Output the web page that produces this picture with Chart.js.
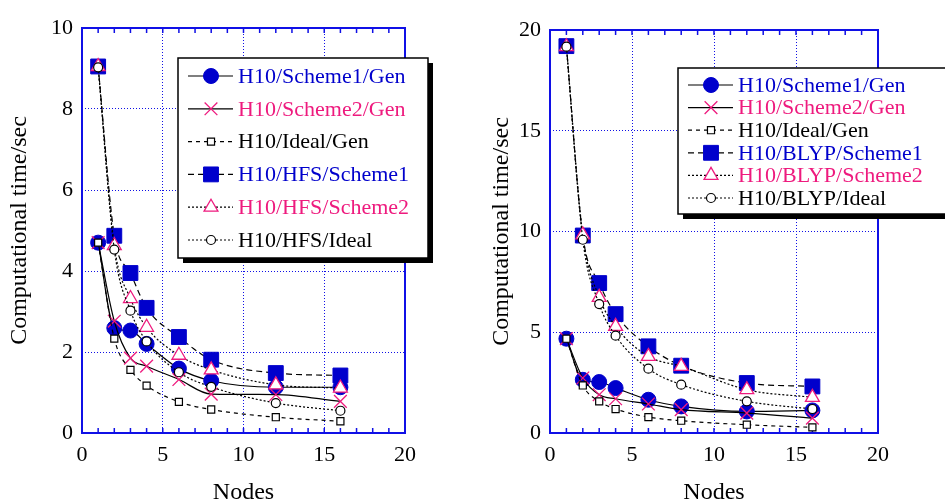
<!DOCTYPE html>
<html>
<head>
<meta charset="utf-8">
<script src="https://cdn.jsdelivr.net/npm/chart.js"></script>
<style>
  html, body { margin: 0; padding: 0; background: #fff; }
  #wrap { position: relative; width: 945px; height: 500px; overflow: hidden; }
  .panel { position: absolute; top: 0; height: 500px; }
</style>
</head>
<body>
<div id="wrap">
  <div class="panel" style="left:0;width:470px"><canvas id="hfsChart"></canvas></div>
  <div class="panel" style="left:470px;width:475px"><canvas id="blypChart"></canvas></div>
</div>
<script>
const nodes = [1, 2, 3, 4, 6, 8, 12, 16];

// left panel (HFS)
const hfsLabels = ['H10/Scheme1/Gen', 'H10/Scheme2/Gen', 'H10/Ideal/Gen', 'H10/HFS/Scheme1', 'H10/HFS/Scheme2', 'H10/HFS/Ideal'];
const leftScheme1Gen = [4.70, 2.59, 2.53, 2.20, 1.59, 1.29, 1.13, 1.13];
const leftScheme2Gen = [4.70, 2.76, 1.85, 1.65, 1.32, 0.96, 0.95, 0.78];
const leftIdealGen   = [4.70, 2.33, 1.56, 1.17, 0.77, 0.58, 0.39, 0.29];
const hfsScheme1     = [9.05, 4.87, 3.95, 3.09, 2.37, 1.81, 1.48, 1.42];
const hfsScheme2     = [9.05, 4.63, 3.32, 2.61, 1.92, 1.56, 1.19, 1.11];
const hfsIdeal       = [9.03, 4.53, 3.02, 2.26, 1.50, 1.14, 0.74, 0.55];

// right panel (BLYP)
const blypLabels = ['H10/Scheme1/Gen', 'H10/Scheme2/Gen', 'H10/Ideal/Gen', 'H10/BLYP/Scheme1', 'H10/BLYP/Scheme2', 'H10/BLYP/Ideal'];
const rightScheme1Gen = [4.68, 2.64, 2.53, 2.23, 1.65, 1.32, 1.07, 1.12];
const rightScheme2Gen = [4.68, 2.73, 1.90, 1.70, 1.44, 1.16, 0.99, 0.74];
const rightIdealGen   = [4.68, 2.36, 1.57, 1.19, 0.79, 0.61, 0.41, 0.28];
const blypScheme1     = [19.2, 9.80, 7.44, 5.90, 4.30, 3.34, 2.48, 2.31];
const blypScheme2     = [19.17, 9.83, 6.73, 5.29, 3.80, 3.31, 2.15, 1.77];
const blypIdeal       = [19.17, 9.59, 6.40, 4.83, 3.19, 2.40, 1.57, 1.19];

const BLUE = '#0000cc';
const PINK = '#ee1a7e';
const AXIS_BLUE = '#1010e6';
const FONT = '"Liberation Serif", "DejaVu Serif", serif';

// marker + line style for the six series, in legend order
const styles = [
  { text: BLUE,    dash: [],     point: 'circle',   r: 7.5, fill: BLUE,   stroke: BLUE, pw: 1 },
  { text: PINK,    dash: [],     point: 'crossRot', r: 9,   fill: PINK,   stroke: PINK, pw: 1.3 },
  { text: '#000',  dash: [4, 4], point: 'rect',     r: 5,   fill: '#fff', stroke: '#000', pw: 1.2 },
  { text: BLUE,    dash: [6, 4], point: 'rect',     r: 10.5, fill: BLUE,  stroke: BLUE, pw: 1 },
  { text: PINK,    dash: [2, 2], point: 'triangle', r: 8,   fill: '#fff', stroke: PINK, pw: 1.3 },
  { text: '#000',  dash: [2, 2], point: 'circle',   r: 4.5, fill: '#fff', stroke: '#000', pw: 1.2 }
];

function makeDatasets(labels, seriesList) {
  return seriesList.map((vals, i) => {
    const s = styles[i];
    return {
      label: labels[i],
      data: nodes.map((n, k) => ({ x: n, y: vals[k] })),
      showLine: true,
      cubicInterpolationMode: 'monotone',
      borderColor: '#000',
      borderWidth: 1.2,
      borderDash: s.dash,
      pointStyle: s.point,
      pointRadius: s.r,
      pointBackgroundColor: s.fill,
      pointBorderColor: s.stroke,
      pointBorderWidth: s.pw,
      order: 6 - i,
      textColor: s.text
    };
  });
}

// blue frame, minor ticks and the boxed legend
const decorPlugin = {
  id: 'decor',
  beforeDatasetsDraw(chart) {
    const { ctx, chartArea: a, scales: { x } } = chart;
    ctx.save();
    ctx.strokeStyle = AXIS_BLUE;
    ctx.lineWidth = 2;
    ctx.setLineDash([]);
    ctx.strokeRect(a.left, a.top, a.right - a.left, a.bottom - a.top);
    ctx.lineWidth = 1.5;
    for (let v = 0; v <= 20; v++) {
      const px = x.getPixelForValue(v);
      ctx.beginPath();
      ctx.moveTo(px, a.bottom); ctx.lineTo(px, a.bottom - 5);
      ctx.moveTo(px, a.top); ctx.lineTo(px, a.top + 5);
      ctx.stroke();
    }
    ctx.restore();
  },
  afterDraw(chart, args, opts) {
    const { ctx } = chart;
    const L = opts.box;
    ctx.save();
    ctx.setLineDash([]);
    ctx.fillStyle = '#000';
    ctx.fillRect(L.x + 5, L.y + 5, L.w, L.h);
    ctx.fillStyle = '#fff';
    ctx.fillRect(L.x, L.y, L.w, L.h);
    ctx.strokeStyle = '#000';
    ctx.lineWidth = 1.5;
    ctx.strokeRect(L.x, L.y, L.w, L.h);
    ctx.font = '22px ' + FONT;
    ctx.textBaseline = 'middle';
    chart.data.datasets.forEach((ds, i) => {
      const y = L.y + L.first + i * L.step;
      ctx.strokeStyle = '#000';
      ctx.lineWidth = 1.2;
      ctx.setLineDash(ds.borderDash);
      ctx.beginPath();
      ctx.moveTo(L.x + 10, y);
      ctx.lineTo(L.x + 55, y);
      ctx.stroke();
      ctx.setLineDash([]);
      ctx.fillStyle = ds.pointBackgroundColor;
      ctx.strokeStyle = ds.pointBorderColor;
      ctx.lineWidth = ds.pointBorderWidth;
      Chart.helpers.drawPoint(ctx, { pointStyle: ds.pointStyle, radius: ds.pointRadius, borderWidth: ds.pointBorderWidth, rotation: 0 }, L.x + 33, y);
      ctx.fillStyle = ds.textColor;
      ctx.fillText(ds.label, L.x + 60, y + 1);
    });
    ctx.restore();
  }
};

function makeChart(id, labels, seriesList, yMax, yStep, leftPad, axisW, titlePad, box, rightPad, topPad) {
  return new Chart(document.getElementById(id), {
    type: 'scatter',
    data: { datasets: makeDatasets(labels, seriesList) },
    plugins: [decorPlugin],
    options: {
      responsive: true,
      maintainAspectRatio: false,
      animation: false,
      layout: { padding: { left: leftPad, right: rightPad, top: topPad, bottom: 0 } },
      plugins: {
        legend: { display: false },
        tooltip: { enabled: false },
        decor: { box: box }
      },
      scales: {
        x: {
          type: 'linear', min: 0, max: 20,
          afterFit: s => { s.height = 67; },
          ticks: { stepSize: 5, color: '#000', font: { family: FONT, size: 22 }, padding: 9 },
          grid: { color: AXIS_BLUE, lineWidth: 1, drawTicks: false },
          border: { display: false, dash: [1, 2] },
          title: { display: true, text: 'Nodes', color: '#000', font: { family: FONT, size: 24 }, padding: { top: 0, bottom: -7 } }
        },
        y: {
          type: 'linear', min: 0, max: yMax,
          afterFit: s => { s.width = axisW; },
          ticks: { stepSize: yStep, color: '#000', font: { family: FONT, size: 22 }, padding: 9 },
          grid: { color: AXIS_BLUE, lineWidth: 1, drawTicks: false },
          border: { display: false, dash: [1, 2] },
          title: { display: true, text: 'Computational time/sec', color: '#000', font: { family: FONT, size: 24 }, padding: { top: titlePad, bottom: 0 } }
        }
      }
    }
  });
}

makeChart('hfsChart', hfsLabels,
  [leftScheme1Gen, leftScheme2Gen, leftIdealGen, hfsScheme1, hfsScheme2, hfsIdeal],
  10, 2, 0, 82, 5, { x: 178, y: 58, w: 250, h: 200, first: 18, step: 32.8 }, 65, 28);

makeChart('blypChart', blypLabels,
  [rightScheme1Gen, rightScheme2Gen, rightIdealGen, blypScheme1, blypScheme2, blypIdeal],
  20, 5, 12, 68, 5, { x: 208, y: 68, w: 290, h: 146, first: 17, step: 22.6 }, 67, 30);
</script>
</body>
</html>
